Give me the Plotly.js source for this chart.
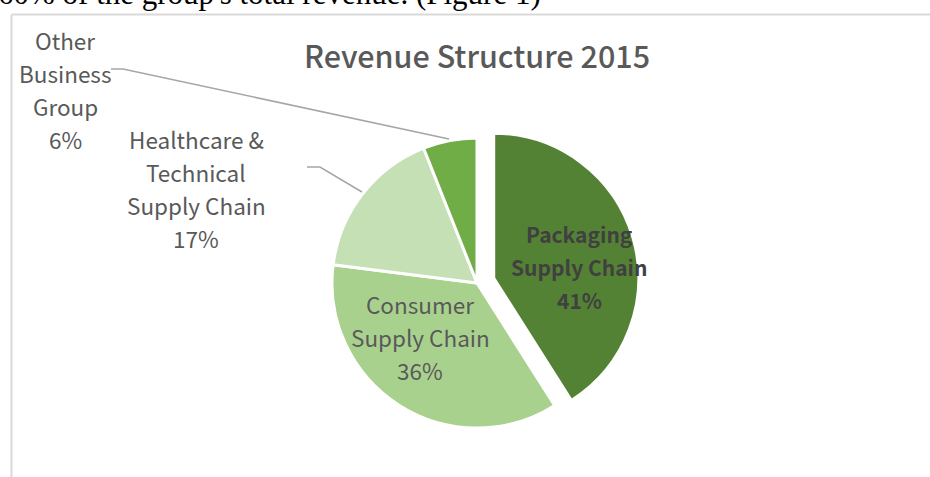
<!DOCTYPE html>
<html>
<head>
<meta charset="utf-8">
<script src="https://cdn.plot.ly/plotly-3.0.1.min.js"></script>
<style>html,body{margin:0;padding:0;background:#fff;}#chart{width:930px;height:477px;}</style>
</head>
<body>
<div id="chart"></div>
<script>
// ---- data ----
const categories = ['Packaging Supply Chain', 'Consumer Supply Chain', 'Healthcare & Technical Supply Chain', 'Other Business Group'];
const values = [41, 36, 17, 6];
const labelLines = [
  ['Packaging', 'Supply Chain'],
  ['Consumer', 'Supply Chain'],
  ['Healthcare &', 'Technical', 'Supply Chain'],
  ['Other', 'Business', 'Group']
];
const colors = ['#548235', '#A9D18E', '#C5E0B4', '#70AD47'];
const pulls = [0.12, 0, 0, 0];
const chartTitle = 'Revenue Structure 2015';
const captionText = "60% of the group's total revenue. (Figure 1)";

// ---- layout helpers ----
const W = 930, H = 477;
const px = x => x / W;
const py = y => 1 - y / H;

// label placement (pixel centres of first line) and style
const labelPos = [
  {x: 579, y: 234, bold: true},
  {x: 420, y: 304, bold: false},
  {x: 196, y: 139, bold: false},
  {x: 65,  y: 40,  bold: false}
];
const lineGap = 33;
const labelFont = 'Noto Sans CJK SC, Noto Sans, sans-serif';

const annotations = [];
categories.forEach((c, i) => {
  const lines = labelLines[i].concat([values[i] + '%']);
  lines.forEach((t, k) => {
    annotations.push({
      xref: 'paper', yref: 'paper',
      x: px(labelPos[i].x), y: py(labelPos[i].y + k * lineGap),
      xanchor: 'center', yanchor: 'middle',
      text: t,
      showarrow: false,
      font: labelPos[i].bold
        ? {family: labelFont, size: 21, color: '#404040', weight: 700}
        : {family: labelFont, size: 22.5, color: '#595959', weight: 400}
    });
  });
});
annotations.push({
  xref: 'paper', yref: 'paper',
  x: px(543), y: py(-7), xanchor: 'right', yanchor: 'middle',
  text: captionText, showarrow: false,
  font: {family: 'Liberation Serif, Times New Roman, serif', size: 31, color: '#000'}
});

const lineStyle = {color: '#A6A6A6', width: 1.5};
const shapes = [
  // frame
  {type: 'line', xref: 'paper', yref: 'paper', x0: px(11.5), y0: py(14.5), x1: px(935), y1: py(14.5), line: {color: '#D9D9D9', width: 2}},
  {type: 'line', xref: 'paper', yref: 'paper', x0: px(11.5), y0: py(14.5), x1: px(11.5), y1: py(480), line: {color: '#D9D9D9', width: 2}},
  // leader lines
  {type: 'path', xref: 'paper', yref: 'paper',
   path: 'M ' + px(111) + ',' + py(69) + ' L ' + px(123) + ',' + py(69) + ' L ' + px(449) + ',' + py(139), line: lineStyle},
  {type: 'path', xref: 'paper', yref: 'paper',
   path: 'M ' + px(307) + ',' + py(167) + ' L ' + px(320) + ',' + py(167) + ' L ' + px(362) + ',' + py(192), line: lineStyle}
];

const trace = {
  type: 'pie',
  labels: categories,
  values: values,
  sort: false,
  direction: 'clockwise',
  rotation: 0,
  pull: pulls,
  textinfo: 'none',
  hoverinfo: 'label+percent',
  marker: {colors: colors, line: {color: '#FFFFFF', width: 3}},
  domain: {x: [px(314.6), px(639.4)], y: [py(445.4), py(120.6)]},
  showlegend: false
};

const layout = {
  width: W, height: H,
  margin: {l: 0, r: 0, t: 0, b: 0},
  paper_bgcolor: '#FFFFFF',
  showlegend: false,
  title: {
    text: chartTitle,
    x: px(477), xref: 'paper', xanchor: 'center',
    y: py(57), yref: 'container', yanchor: 'middle',
    font: {family: 'Noto Sans CJK SC, Noto Sans, sans-serif', size: 30.5, color: '#595959', weight: 500}
  },
  annotations: annotations,
  shapes: shapes
};

Plotly.newPlot('chart', [trace], layout, {displayModeBar: false, staticPlot: true});
</script>
</body>
</html>
